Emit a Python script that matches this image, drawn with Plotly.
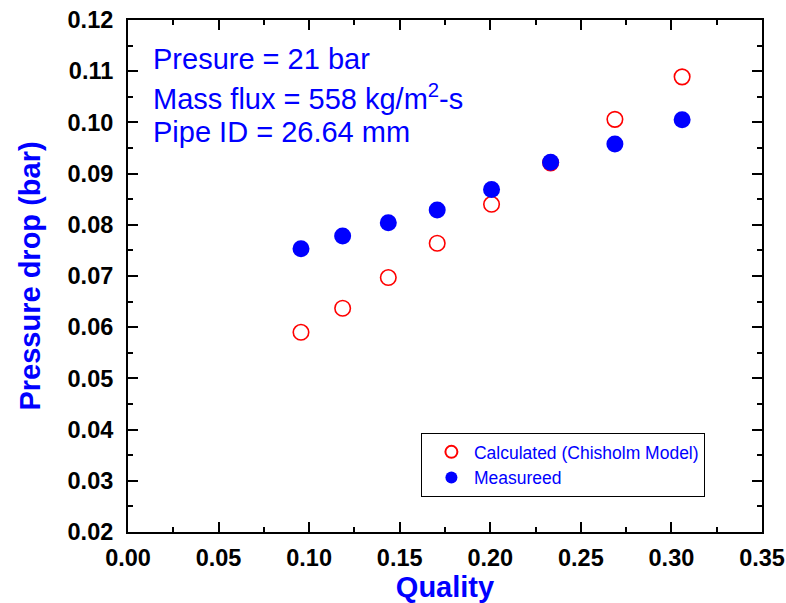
import plotly.graph_objects as go

quality = [0.0955, 0.1185, 0.1437, 0.1707, 0.2007, 0.2333, 0.2688, 0.3059]
calculated = [0.0590, 0.0637, 0.0697, 0.0764, 0.0840, 0.0921, 0.1006, 0.1089]
measured = [0.0753, 0.0778, 0.0804, 0.0829, 0.0869, 0.0922, 0.0958, 0.1005]

info_lines = ["Presure = 21 bar", "Mass flux = 558 kg/m<sup>2</sup>-s", "Pipe ID = 26.64 mm"]

FONT = "Liberation Sans, Arial, sans-serif"
BLUE = "#0000ff"

fig = go.Figure()
fig.add_trace(go.Scatter(
    x=quality, y=calculated, mode="markers", name="Calculated (Chisholm Model)",
    marker=dict(symbol="circle-open", size=15.5, color="#ff0000", line=dict(width=1.6, color="#ff0000")),
))
fig.add_trace(go.Scatter(
    x=quality, y=measured, mode="markers", name="Measureed",
    marker=dict(symbol="circle", size=17, color=BLUE, line=dict(width=0)),
))

axis_common = dict(
    showline=True, linecolor="black", linewidth=2, mirror="allticks",
    ticks="inside", ticklen=10, tickwidth=2, tickcolor="black",
    showgrid=False, zeroline=False, automargin=False,
    tickfont=dict(family=FONT, size=23.5, color="black", weight="bold"),
    tickformat=".2f",
)

fig.update_xaxes(
    range=[0, 0.35], dtick=0.05, tick0=0,
    minor=dict(ticks="inside", ticklen=5, tickwidth=2, tickcolor="black", dtick=0.025),
    title=dict(text="Quality", font=dict(family=FONT, size=29, color=BLUE, weight="bold"), standoff=1),
    ticklabelstandoff=4,
    **axis_common,
)
fig.update_yaxes(
    range=[0.02, 0.12], dtick=0.01, tick0=0.02,
    minor=dict(ticks="inside", ticklen=5, tickwidth=2, tickcolor="black", dtick=0.005),
    title=dict(text="Pressure drop (bar)", font=dict(family=FONT, size=29, color=BLUE, weight="bold"), standoff=18),
    ticklabelstandoff=8,
    **axis_common,
)

ys = [0.924, 0.849, 0.781]
for txt, yy in zip(info_lines, ys):
    fig.add_annotation(
        text=txt, xref="paper", yref="paper", x=0.037, y=yy,
        xanchor="left", yanchor="middle", showarrow=False,
        font=dict(family=FONT, size=29, color=BLUE),
    )

fig.update_layout(
    width=786, height=603,
    margin=dict(l=128, r=24, t=20, b=71),
    plot_bgcolor="white", paper_bgcolor="white",
    showlegend=True,
    legend=dict(
        x=0.462, y=0.1934, xanchor="left", yanchor="top",
        bordercolor="black", borderwidth=1, bgcolor="white",
        font=dict(family=FONT, size=17.5, color=BLUE),
        itemwidth=35, indentation=7, tracegroupgap=0, itemsizing="constant",
    ),
)

fig.write_html("out.html")
